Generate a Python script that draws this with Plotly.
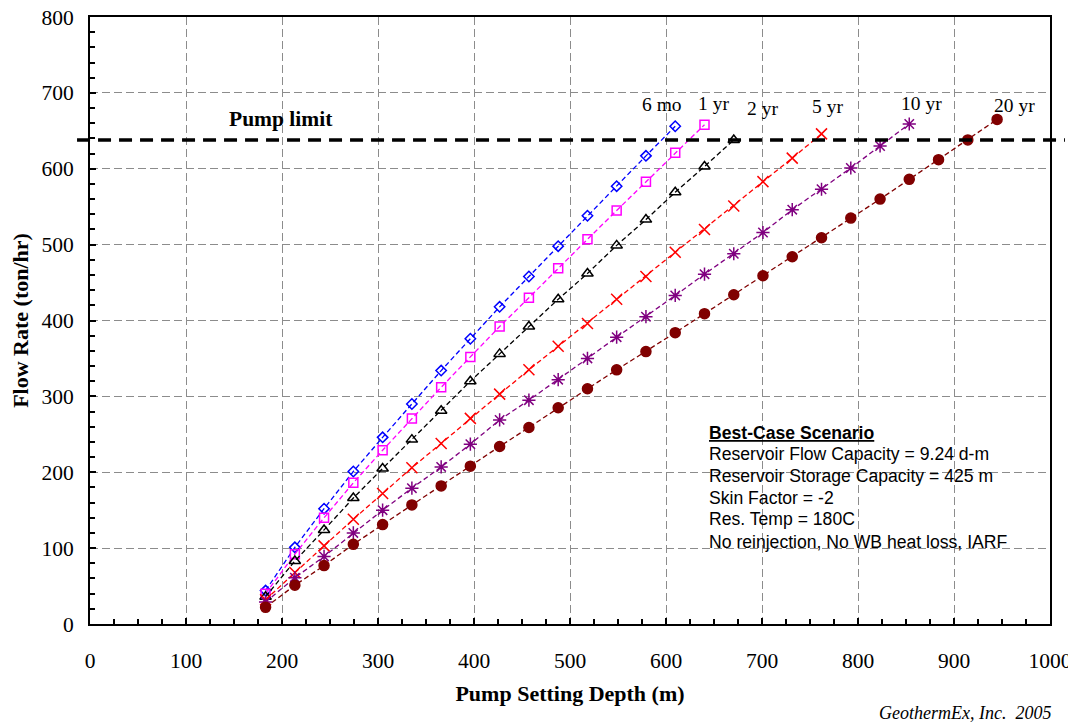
import plotly.graph_objects as go

# ---- data ----
depth = [182.9, 213.4, 243.8, 274.3, 304.8, 335.3, 365.8, 396.2, 426.7, 457.2,
         487.7, 518.2, 548.6, 579.1, 609.6, 640.1, 670.6, 701.0, 731.5, 762.0,
         792.5, 823.0, 853.4, 883.9, 914.4, 944.9]

flow_6mo = [44, 101, 152, 201, 246, 290, 334, 376, 418, 458, 498, 538, 577, 617, 656]
flow_1yr = [40, 92, 140, 186, 229, 271, 312, 352, 392, 430, 469, 507, 545, 583, 621, 658]
flow_2yr = [36, 83, 124, 166, 205, 243, 281, 320, 356, 392, 428, 462, 499, 533, 569, 603, 638]
flow_5yr = [32, 68, 103, 138, 172, 206, 238, 271, 303, 335, 366, 396, 428, 458, 490, 520,
            551, 583, 614, 646]
flow_10yr = [29, 61, 89, 120, 150, 179, 207, 237, 269, 295, 322, 350, 378, 405, 433, 461,
             488, 516, 546, 573, 601, 630, 659]
flow_20yr = [22, 51, 77, 105, 131, 157, 182, 208, 234, 259, 285, 310, 335, 359, 384, 409,
             434, 459, 484, 509, 535, 560, 586, 612, 638, 665]

series_names = ["6 mo", "1 yr", "2 yr", "5 yr", "10 yr", "20 yr"]
series_values = [flow_6mo, flow_1yr, flow_2yr, flow_5yr, flow_10yr, flow_20yr]
label_pos = [(596, 685), (649, 686), (701, 680), (768, 682), (866, 686), (963, 684)]

pump_limit = 638

x_ticks = [0, 100, 200, 300, 400, 500, 600, 700, 800, 900, 1000]
y_ticks = [0, 100, 200, 300, 400, 500, 600, 700, 800]

notes_title = "Best-Case Scenario"
notes = ["Reservoir Flow Capacity = 9.24 d-m",
         "Reservoir Storage Capacity = 425 m",
         "Skin Factor = -2",
         "Res. Temp = 180C",
         "No reinjection, No WB heat loss, IARF"]

# ---- styles ----
colors = ["#0000FF", "#FF00FF", "#000000", "#FF0000", "#800080", "#800000"]
symbols = ["diamond-open", "square-open", "triangle-up-open", "x-thin-open",
           "asterisk-open", "circle"]
sizes = [8, 9, 10, 11, 11, 10]

SERIF = "Liberation Serif, Times New Roman, serif"
SANS = "Liberation Sans, Arial, sans-serif"

fig = go.Figure()
for name, vals, c, s, sz in zip(series_names, series_values, colors, symbols, sizes):
    fig.add_trace(go.Scatter(
        x=depth[:len(vals)], y=vals, mode="lines+markers", name=name,
        line=dict(color=c, width=1.3, dash="5px,3px"),
        marker=dict(symbol=s, size=sz, color=c, line=dict(color=c, width=1.5)),
        showlegend=False, cliponaxis=False,
    ))

fig.add_shape(type="line", xref="paper", yref="y", x0=-0.0135, x1=1.0156,
              y0=pump_limit, y1=pump_limit,
              line=dict(color="black", width=3.5, dash="13px,8px"), layer="above")

annotations = [
    dict(x=199, y=665, xref="x", yref="y", text="<b>Pump limit</b>", showarrow=False,
         font=dict(family=SERIF, size=21.5, color="black")),
]
for name, (lx, ly) in zip(series_names, label_pos):
    annotations.append(dict(x=lx, y=ly, xref="x", yref="y", text=name, showarrow=False,
                            font=dict(family=SERIF, size=19.5, color="black")))

note_y = [252, 224.5, 195.5, 166.5, 138, 108]
annotations.append(dict(x=643, y=note_y[0], xref="x", yref="y", xanchor="left",
                        text="<b><u>" + notes_title + "</u></b>", showarrow=False,
                        font=dict(family=SANS, size=17.6, color="black")))
for t, yy in zip(notes, note_y[1:]):
    annotations.append(dict(x=643, y=yy, xref="x", yref="y", xanchor="left", text=t,
                            showarrow=False, font=dict(family=SANS, size=17.6, color="black")))

annotations.append(dict(x=1.003, y=-0.146, xref="paper", yref="paper", xanchor="right",
                        yanchor="middle", text="<i>GeothermEx, Inc.  2005</i>",
                        showarrow=False, font=dict(family=SERIF, size=18, color="black")))

# the page body adds an 8px offset: margins compensate so the plot lands where the reference has it
fig.update_layout(
    width=1076, height=723,
    margin=dict(l=82, r=34, t=9, b=107),
    paper_bgcolor="white", plot_bgcolor="white",
    annotations=annotations,
    font=dict(family=SERIF, color="black"),
)

fig.update_xaxes(
    range=[0, 1000], tickvals=x_ticks, ticktext=[str(v) for v in x_ticks],
    automargin=False, ticklabeloverflow="allow",
    showline=True, linecolor="black", linewidth=2, mirror=True,
    ticks="inside", ticklen=6, tickcolor="black", tickwidth=1.5,
    minor=dict(dtick=25, ticks="inside", ticklen=5, tickcolor="black", showgrid=False),
    showgrid=True, gridcolor="#8c8c8c", gridwidth=1, griddash="8px,4px",
    zeroline=False, tickfont=dict(family=SERIF, size=21.5, color="black"),
    ticklabelstandoff=16,
    title=dict(text="<b>Pump Setting Depth (m)</b>", font=dict(family=SERIF, size=22),
               standoff=14),
)
fig.update_yaxes(
    range=[0, 800], tickvals=y_ticks, ticktext=[str(v) for v in y_ticks],
    automargin=False, ticklabeloverflow="allow",
    showline=True, linecolor="black", linewidth=2, mirror=True,
    ticks="inside", ticklen=6, tickcolor="black", tickwidth=1.5,
    minor=dict(dtick=20, ticks="inside", ticklen=5, tickcolor="black", showgrid=False),
    showgrid=True, gridcolor="#8c8c8c", gridwidth=1, griddash="8px,4px",
    zeroline=False, tickfont=dict(family=SERIF, size=21.5, color="black"),
    ticklabelstandoff=10,
    title=dict(text="<b>Flow Rate (ton/hr)</b>", font=dict(family=SERIF, size=22),
               standoff=12),
)

fig.write_html("out.html")
